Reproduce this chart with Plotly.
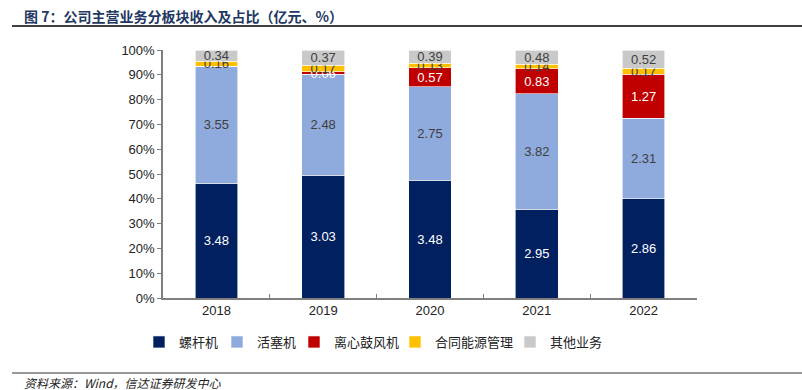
import plotly.graph_objects as go

years = ["2018", "2019", "2020", "2021", "2022"]
series_names = ["螺杆机", "活塞机", "离心鼓风机", "合同能源管理", "其他业务"]
screw = [3.48, 3.03, 3.48, 2.95, 2.86]
piston = [3.55, 2.48, 2.75, 3.82, 2.31]
centrifugal = [0, 0.06, 0.57, 0.83, 1.27]
contract = [0.16, 0.17, 0.13, 0.14, 0.17]
other = [0.34, 0.37, 0.39, 0.48, 0.52]
y_ticks = [0, 10, 20, 30, 40, 50, 60, 70, 80, 90, 100]
y_tick_labels = [f"{v}%" for v in y_ticks]

colors = ["#002060", "#8FAADC", "#C00000", "#FFC000", "#C9C9C9"]
text_colors = ["#FFFFFF", "#404040", "#FFFFFF", "#404040", "#404040"]

# plot area in pixels
L, R, T, B = 163, 697, 50, 298
W, H = R - L, B - T
def px(x):
    return (x - L) / W
def py(y):
    return (B - y) / H

fig = go.Figure()
data = [screw, piston, centrifugal, contract, other]
legend_text_x = [177, 255, 332, 433, 548]
for i, (name, vals) in enumerate(zip(series_names, data)):
    lg = "legend" if i == 0 else f"legend{i+1}"
    fig.add_trace(go.Bar(
        x=years, y=vals, name=name,
        marker=dict(color=colors[i], line=dict(color="#FFFFFF", width=0.6)),
        text=[("" if v == 0 else f"{v:.2f}") for v in vals],
        textposition="inside", insidetextanchor="middle",
        textfont=dict(color=text_colors[i], size=13, family="Liberation Sans, Arial"),
        legend=lg,
    ))

layout_legends = {}
for i in range(5):
    key = "legend" if i == 0 else f"legend{i+1}"
    layout_legends[key] = dict(
        x=px(legend_text_x[i] - 38), y=py(342), xanchor="left", yanchor="middle",
        orientation="h", bgcolor="rgba(0,0,0,0)",
        font=dict(size=13, color="#222222", family="Noto Sans CJK SC"),
        itemwidth=30,
    )

fig.update_layout(
    barmode="stack", barnorm="percent", bargap=0.6,
    width=802, height=390,
    margin=dict(l=L, r=802 - R, t=T, b=390 - B, autoexpand=False),
    paper_bgcolor="white", plot_bgcolor="white",
    uniformtext=dict(mode="show", minsize=13),
    showlegend=True,
    **layout_legends,
)
fig.update_yaxes(
    range=[0, 100], tickvals=y_ticks, ticktext=y_tick_labels,
    showgrid=False, zeroline=False,
    showline=True, linecolor="#7F7F7F", linewidth=1.5,
    ticks="outside", ticklen=4, tickcolor="#7F7F7F",
    tickfont=dict(size=13, color="#222222", family="Liberation Sans, Arial"),
)
fig.update_xaxes(
    showgrid=False, showline=True, linecolor="#7F7F7F", linewidth=1.5,
    ticks="inside", tickson="boundaries", ticklen=4, tickcolor="#7F7F7F",
    tickfont=dict(size=13, color="#222222", family="Liberation Sans, Arial"),
)

fig.add_annotation(
    text="<b>图 7：公司主营业务分板块收入及占比（亿元、%）</b>",
    xref="paper", yref="paper", x=px(22), y=py(16), xanchor="left", yanchor="middle",
    showarrow=False, font=dict(size=14, color="#1F3864", family="Noto Sans CJK SC"),
)
fig.add_annotation(
    text="<i>资料来源：Wind，信达证券研发中心</i>",
    xref="paper", yref="paper", x=px(22), y=py(382), xanchor="left", yanchor="middle",
    showarrow=False, font=dict(size=12, color="#222222", family="Noto Sans CJK SC"),
)
fig.add_shape(type="line", xref="paper", yref="paper",
              x0=px(12), x1=px(802), y0=py(26), y1=py(26),
              line=dict(color="#000000", width=1.5))
fig.add_shape(type="line", xref="paper", yref="paper",
              x0=px(12), x1=px(802), y0=py(373), y1=py(373),
              line=dict(color="#999999", width=2))

fig.write_html("out.html", config={"displayModeBar": False},
               post_script="document.body.style.margin='0';document.body.style.overflow='hidden';")
